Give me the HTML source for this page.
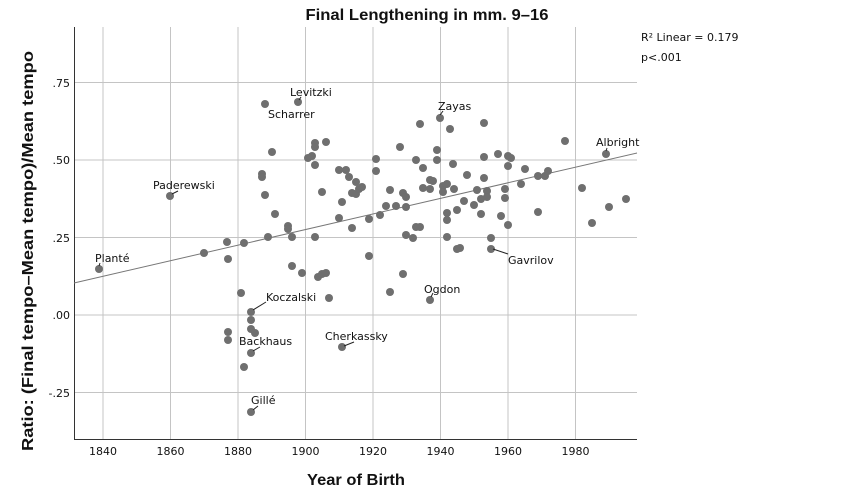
<!DOCTYPE html>
<html><head><meta charset="utf-8"><style>
html,body{margin:0;padding:0;background:#fff;}
svg{display:block;font-family:"DejaVu Sans","Liberation Sans",sans-serif;}
</style></head><body>
<svg width="851" height="501" viewBox="0 0 851 501" xmlns="http://www.w3.org/2000/svg">
<g stroke="#c4c4c4" stroke-width="1">
<line x1="103" y1="27" x2="103" y2="439"/><line x1="170.5" y1="27" x2="170.5" y2="439"/>
<line x1="238" y1="27" x2="238" y2="439"/><line x1="305.5" y1="27" x2="305.5" y2="439"/>
<line x1="373" y1="27" x2="373" y2="439"/><line x1="440.5" y1="27" x2="440.5" y2="439"/>
<line x1="508" y1="27" x2="508" y2="439"/><line x1="575.5" y1="27" x2="575.5" y2="439"/>
<line x1="74" y1="82.5" x2="637" y2="82.5"/><line x1="74" y1="160" x2="637" y2="160"/>
<line x1="74" y1="237.5" x2="637" y2="237.5"/><line x1="74" y1="315" x2="637" y2="315"/>
<line x1="74" y1="392.5" x2="637" y2="392.5"/>
</g>
<g stroke="#333" stroke-width="1"><line x1="74.5" y1="27" x2="74.5" y2="439.5"/><line x1="74" y1="439.5" x2="637" y2="439.5"/></g>
<line x1="74" y1="283" x2="637" y2="153" stroke="#777" stroke-width="1"/>
<g fill="#6f6f6f">
<circle cx="99" cy="269" r="4"/><circle cx="170" cy="196" r="4"/><circle cx="204" cy="253" r="4"/><circle cx="228" cy="259" r="4"/><circle cx="227" cy="242" r="4"/><circle cx="244" cy="243" r="4"/><circle cx="241" cy="293" r="4"/>
<circle cx="228" cy="332" r="4"/><circle cx="228" cy="340" r="4"/><circle cx="251" cy="312" r="4"/><circle cx="251" cy="320" r="4"/><circle cx="251" cy="329" r="4"/><circle cx="255" cy="333" r="4"/><circle cx="251" cy="353" r="4"/><circle cx="244" cy="367" r="4"/><circle cx="251" cy="412" r="4"/>
<circle cx="265" cy="104" r="4"/><circle cx="272" cy="152" r="4"/><circle cx="262" cy="174" r="4"/><circle cx="262" cy="177" r="4"/><circle cx="265" cy="195" r="4"/><circle cx="275" cy="214" r="4"/><circle cx="268" cy="237" r="4"/><circle cx="288" cy="226" r="4"/><circle cx="288" cy="229" r="4"/><circle cx="292" cy="237" r="4"/><circle cx="298" cy="102" r="4"/>
<circle cx="308" cy="158" r="4"/><circle cx="312" cy="156" r="4"/><circle cx="315" cy="143" r="4"/><circle cx="315" cy="147" r="4"/><circle cx="315" cy="165" r="4"/><circle cx="326" cy="142" r="4"/><circle cx="322" cy="192" r="4"/><circle cx="315" cy="237" r="4"/>
<circle cx="339" cy="170" r="4"/><circle cx="346" cy="170" r="4"/><circle cx="349" cy="177" r="4"/><circle cx="356" cy="182" r="4"/><circle cx="352" cy="193" r="4"/><circle cx="356" cy="194" r="4"/><circle cx="359" cy="189" r="4"/><circle cx="362" cy="187" r="4"/><circle cx="342" cy="202" r="4"/><circle cx="339" cy="218" r="4"/><circle cx="352" cy="228" r="4"/><circle cx="369" cy="219" r="4"/>
<circle cx="376" cy="159" r="4"/><circle cx="376" cy="171" r="4"/><circle cx="380" cy="215" r="4"/><circle cx="386" cy="206" r="4"/><circle cx="390" cy="190" r="4"/><circle cx="396" cy="206" r="4"/><circle cx="400" cy="147" r="4"/><circle cx="403" cy="193" r="4"/><circle cx="406" cy="197" r="4"/><circle cx="406" cy="207" r="4"/><circle cx="406" cy="235" r="4"/><circle cx="413" cy="238" r="4"/><circle cx="416" cy="227" r="4"/><circle cx="416" cy="160" r="4"/><circle cx="420" cy="124" r="4"/><circle cx="420" cy="227" r="4"/>
<circle cx="440" cy="118" r="4"/><circle cx="450" cy="129" r="4"/><circle cx="484" cy="123" r="4"/><circle cx="437" cy="150" r="4"/><circle cx="437" cy="160" r="4"/><circle cx="423" cy="168" r="4"/><circle cx="453" cy="164" r="4"/><circle cx="430" cy="180" r="4"/><circle cx="433" cy="181" r="4"/><circle cx="423" cy="188" r="4"/><circle cx="430" cy="189" r="4"/><circle cx="443" cy="186" r="4"/><circle cx="447" cy="184" r="4"/><circle cx="443" cy="192" r="4"/><circle cx="454" cy="189" r="4"/>
<circle cx="467" cy="175" r="4"/><circle cx="484" cy="157" r="4"/><circle cx="498" cy="154" r="4"/><circle cx="484" cy="178" r="4"/><circle cx="508" cy="156" r="4"/><circle cx="511" cy="158" r="4"/><circle cx="508" cy="166" r="4"/><circle cx="525" cy="169" r="4"/><circle cx="538" cy="176" r="4"/><circle cx="545" cy="176" r="4"/><circle cx="548" cy="171" r="4"/><circle cx="521" cy="184" r="4"/><circle cx="505" cy="189" r="4"/><circle cx="505" cy="198" r="4"/>
<circle cx="477" cy="190" r="4"/><circle cx="487" cy="191" r="4"/><circle cx="487" cy="197" r="4"/><circle cx="481" cy="199" r="4"/><circle cx="464" cy="201" r="4"/><circle cx="474" cy="205" r="4"/><circle cx="457" cy="210" r="4"/><circle cx="447" cy="213" r="4"/><circle cx="447" cy="220" r="4"/><circle cx="481" cy="214" r="4"/><circle cx="501" cy="216" r="4"/><circle cx="508" cy="225" r="4"/><circle cx="538" cy="212" r="4"/><circle cx="447" cy="237" r="4"/><circle cx="491" cy="238" r="4"/>
<circle cx="565" cy="141" r="4"/><circle cx="606" cy="154" r="4"/><circle cx="582" cy="188" r="4"/><circle cx="609" cy="207" r="4"/><circle cx="626" cy="199" r="4"/><circle cx="592" cy="223" r="4"/>
<circle cx="457" cy="249" r="4"/><circle cx="460" cy="248" r="4"/><circle cx="491" cy="249" r="4"/><circle cx="430" cy="300" r="4"/>
<circle cx="292" cy="266" r="4"/><circle cx="302" cy="273" r="4"/><circle cx="318" cy="277" r="4"/><circle cx="322" cy="274" r="4"/><circle cx="326" cy="273" r="4"/><circle cx="369" cy="256" r="4"/><circle cx="403" cy="274" r="4"/><circle cx="390" cy="292" r="4"/><circle cx="329" cy="298" r="4"/><circle cx="342" cy="347" r="4"/>
</g>
<g stroke="#222" stroke-width="1" fill="none">
<line x1="299" y1="100" x2="301" y2="97"/><line x1="172" y1="194" x2="178" y2="191"/><line x1="99" y1="266" x2="100" y2="263"/>
<line x1="440" y1="115" x2="443" y2="111"/><line x1="606" y1="151" x2="607" y2="148"/><line x1="493" y1="249" x2="508" y2="254"/>
<line x1="431" y1="297" x2="433" y2="293"/><line x1="253" y1="310" x2="266" y2="302"/><line x1="253" y1="351" x2="260" y2="347"/>
<line x1="344" y1="346" x2="354" y2="342"/><line x1="253" y1="410" x2="258" y2="406"/>
</g>
<g font-size="11" fill="#111">
<text x="290" y="96">Levitzki</text><text x="268" y="118">Scharrer</text><text x="153" y="189">Paderewski</text><text x="95" y="262">Planté</text>
<text x="438" y="110">Zayas</text><text x="596" y="146">Albright</text><text x="508" y="264">Gavrilov</text><text x="424" y="293">Ogdon</text>
<text x="266" y="301">Koczalski</text><text x="239" y="345">Backhaus</text><text x="325" y="340">Cherkassky</text><text x="251" y="404">Gillé</text>
<text x="641" y="41">R² Linear = 0.179</text><text x="641" y="61">p&lt;.001</text>
</g>
<g font-size="11" fill="#111" text-anchor="middle">
<text x="103" y="455">1840</text><text x="170.5" y="455">1860</text><text x="238" y="455">1880</text><text x="305.5" y="455">1900</text>
<text x="373" y="455">1920</text><text x="440.5" y="455">1940</text><text x="508" y="455">1960</text><text x="575.5" y="455">1980</text>
</g>
<g font-size="11" fill="#111" text-anchor="end">
<text x="70" y="87">.75</text><text x="70" y="164">.50</text><text x="70" y="242">.25</text><text x="70" y="319">.00</text><text x="70" y="397">-.25</text>
</g>
<g font-family="Liberation Sans, sans-serif" font-weight="bold" font-size="16" fill="#111">
<text x="427" y="20" text-anchor="middle" textLength="243" lengthAdjust="spacingAndGlyphs">Final Lengthening in mm. 9–16</text>
<text x="356" y="485" text-anchor="middle" textLength="98" lengthAdjust="spacingAndGlyphs">Year of Birth</text>
<text transform="translate(33,251) rotate(-90)" text-anchor="middle" textLength="400" lengthAdjust="spacingAndGlyphs">Ratio: (Final tempo–Mean tempo)/Mean tempo</text>
</g>
</svg>
</body></html>
